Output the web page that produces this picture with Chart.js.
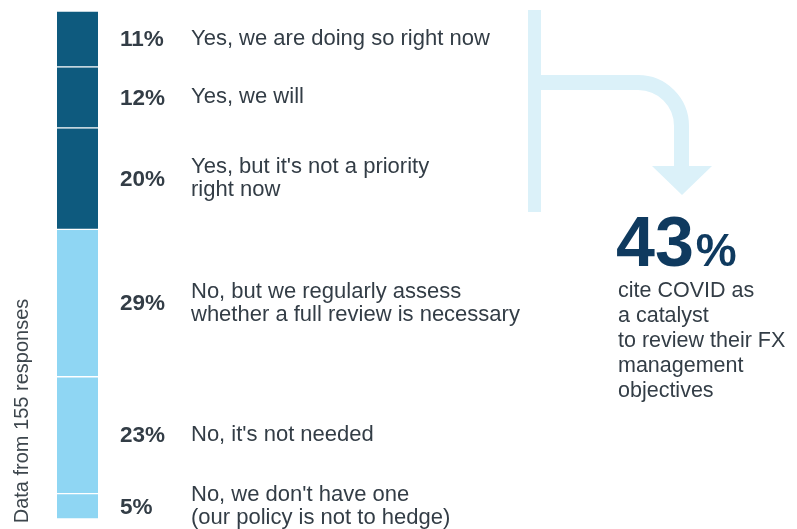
<!DOCTYPE html>
<html>
<head>
<meta charset="utf-8">
<script src="https://cdn.jsdelivr.net/npm/chart.js@4.4.1/dist/chart.umd.min.js"></script>
<style>
  html, body { margin: 0; padding: 0; background: #fff; }
  #wrap { width: 797px; height: 529px; position: relative; }
</style>
</head>
<body>
<div id="wrap"><canvas id="chart" width="797" height="529"></canvas></div>
<script>
// 응답 비율 (위에서부터)
const answers = [
  ['Yes, we are doing so right now'],
  ['Yes, we will'],
  ["Yes, but it's not a priority", 'right now'],
  ['No, but we regularly assess', 'whether a full review is necessary'],
  ["No, it's not needed"],
  ["No, we don't have one", '(our policy is not to hedge)']
];
const shares = [11, 12, 20, 29, 23, 5];
const segColors = ['#0e5a7e', '#0e5a7e', '#0e5a7e', '#8fd6f3', '#8fd6f3', '#8fd6f3'];
const headline = '43';
const headlineText = ['cite COVID as', 'a catalyst', 'to review their FX', 'management', 'objectives'];
const sideNote = 'Data from 155 responses';

const textColor = '#333d46';
const font = '"Liberation Sans", Arial, sans-serif';

// 라벨, 화살표, 43% 그리기
const labelPlugin = {
  id: 'labels',
  afterDraw(chart) {
    const ctx = chart.ctx;
    const y = chart.scales.y;
    ctx.save();
    ctx.textBaseline = 'middle';
    let cum = 0;
    shares.forEach((v, i) => {
      const mid = y.getPixelForValue(cum + v / 2);
      cum += v;
      ctx.fillStyle = textColor;
      ctx.font = 'bold 22.5px ' + font;
      ctx.textAlign = 'left';
      ctx.fillText(v + '%', 120, mid + 1);
      ctx.font = '22px ' + font;
      const lines = answers[i];
      const lh = 23;
      lines.forEach((t, j) => {
        ctx.fillText(t, 191, mid + (j - (lines.length - 1) / 2) * lh);
      });
    });

    // 세로 텍스트
    ctx.save();
    ctx.translate(22, 411);
    ctx.rotate(-Math.PI / 2);
    ctx.textAlign = 'center';
    ctx.fillStyle = '#3d464d';
    ctx.font = '20px ' + font;
    ctx.fillText(sideNote, 0, 0);
    ctx.restore();

    // 화살표
    ctx.fillStyle = '#dbf1f9';
    ctx.fillRect(528, 10, 13, 202);
    ctx.strokeStyle = '#dbf1f9';
    ctx.lineWidth = 15;
    ctx.beginPath();
    ctx.moveTo(541, 82.5);
    ctx.lineTo(638, 82.5);
    ctx.arcTo(681.5, 82.5, 681.5, 130, 43.5);
    ctx.lineTo(681.5, 167);
    ctx.stroke();
    ctx.beginPath();
    ctx.moveTo(652, 166);
    ctx.lineTo(712, 166);
    ctx.lineTo(682, 195);
    ctx.closePath();
    ctx.fill();

    // 43%
    ctx.fillStyle = '#0f3a5f';
    ctx.textBaseline = 'alphabetic';
    ctx.textAlign = 'left';
    ctx.font = 'bold 70px ' + font;
    ctx.fillText(headline, 616, 266);
    const w = ctx.measureText(headline).width;
    ctx.font = 'bold 46px ' + font;
    ctx.fillText('%', 616 + w + 2, 266);

    ctx.fillStyle = textColor;
    ctx.font = '21.5px ' + font;
    ctx.textBaseline = 'middle';
    headlineText.forEach((t, j) => {
      ctx.fillText(t, 618, 291 + j * 25);
    });
    ctx.restore();
  }
};

const datasets = shares.map((v, i) => ({
  data: [v],
  backgroundColor: segColors[i],
  borderColor: '#ffffff',
  borderWidth: { top: 1, bottom: 1, left: 0, right: 0 },
  borderSkipped: false,
  categoryPercentage: 1,
  barPercentage: 1
}));

new Chart(document.getElementById('chart'), {
  type: 'bar',
  data: { labels: [''], datasets: datasets },
  options: {
    responsive: false,
    animation: false,
    layout: { padding: { left: 57, right: 699, top: 11, bottom: 10 } },
    plugins: { legend: { display: false }, tooltip: { enabled: false } },
    scales: {
      x: { stacked: true, display: false },
      y: { stacked: true, display: false, reverse: true, min: 0, max: 100 }
    }
  },
  plugins: [labelPlugin]
});
</script>
</body>
</html>
